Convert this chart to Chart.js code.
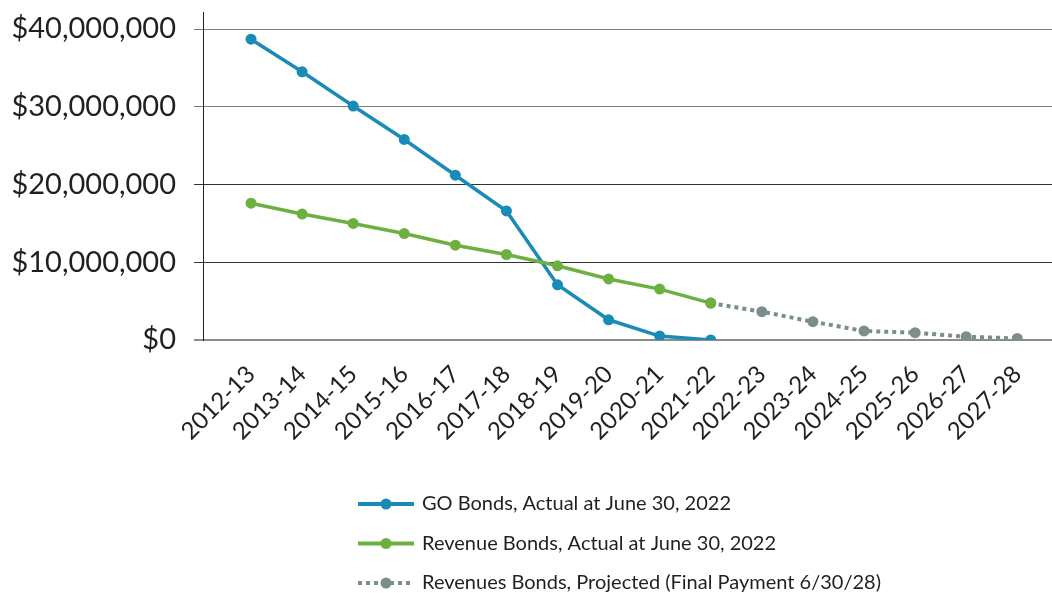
<!DOCTYPE html>
<html>
<head>
<meta charset="utf-8">
<title>Bonds outstanding</title>
<script src="https://cdn.jsdelivr.net/npm/chart.js@4.4.1/dist/chart.umd.min.js"></script>
<style>
  html, body { margin: 0; padding: 0; background: #fff; }
  #wrap { width: 1052px; height: 593px; }
</style>
</head>
<body>
<div id="wrap"><canvas id="bondChart" width="1052" height="593"></canvas></div>
<script>
// fiscal years on the x axis
const fiscalYears = [
    "2012-13", "2013-14", "2014-15", "2015-16", "2016-17", "2017-18",
    "2018-19", "2019-20", "2020-21", "2021-22", "2022-23", "2023-24",
    "2024-25", "2025-26", "2026-27", "2027-28",
];

// outstanding balances (dollars)
const goBonds = [
    38700000, 34500000, 30100000, 25800000, 21200000, 16600000,
    7100000, 2600000, 500000, 0,
];
const revenueBonds = [
    17600000, 16200000, 15000000, 13700000, 12200000, 11000000,
    9550000, 7850000, 6550000, 4750000,
];
// projection starts at the last actual revenue value (2021-22)
const projectedStart = 9;
const projectedBonds = [4750000, 3640000, 2350000, 1160000, 940000, 420000, 200000];

const yTicks = [0, 10000000, 20000000, 30000000, 40000000];

const legendLabels = [
    "GO Bonds, Actual at June 30, 2022",
    "Revenue Bonds, Actual at June 30, 2022",
    "Revenues Bonds, Projected (Final Payment 6/30/28)",
];

const BLUE = "#1a8bb6";
const GREEN = "#6db042";
const GRAY = "#7b8d8d";
const TEXT = "#231f20";
const FONT = "Lato";

const toPoints = (values, start = 0) =>
    values.map((v, i) => ({ x: start + i, y: v }));

const money = (v) => "$" + Number(v).toLocaleString("en-US");

// legend drawn as three stacked rows under the axis
const stackedLegend = {
    id: "stackedLegend",
    afterDraw(chart) {
        const ctx = chart.ctx;
        const left = 358;
        const swatch = 56;
        const top = 504;
        const gap = 39.5;
        ctx.save();
        chart.data.datasets.forEach((ds, i) => {
            const y = top + i * gap;
            ctx.beginPath();
            ctx.strokeStyle = ds.borderColor;
            ctx.lineWidth = 4;
            ctx.setLineDash(ds.borderDash || []);
            ctx.moveTo(left, y);
            ctx.lineTo(left + swatch, y);
            ctx.stroke();
            ctx.setLineDash([]);
            ctx.beginPath();
            ctx.fillStyle = ds.pointBackgroundColor;
            ctx.arc(left + swatch / 2, y, 5.5, 0, Math.PI * 2);
            ctx.fill();
            ctx.fillStyle = TEXT;
            ctx.font = "20px " + FONT;
            ctx.textBaseline = "middle";
            ctx.textAlign = "left";
            ctx.fillText(legendLabels[i], left + swatch + 8, y);
        });
        ctx.restore();
    },
};

const gridColor = (value) => {
    if (value === 0) return "#8c8c8c";
    if (value >= 30000000) return "#7d7d7d";
    return "#333333";
};

new Chart(document.getElementById("bondChart"), {
    type: "line",
    data: {
        datasets: [
            {
                label: legendLabels[0],
                data: toPoints(goBonds),
                borderColor: BLUE,
                backgroundColor: BLUE,
                pointBackgroundColor: BLUE,
                pointBorderWidth: 0,
                pointRadius: 5.5,
                borderWidth: 3.5,
                order: 1,
            },
            {
                label: legendLabels[1],
                data: toPoints(revenueBonds),
                borderColor: GREEN,
                backgroundColor: GREEN,
                pointBackgroundColor: GREEN,
                pointBorderWidth: 0,
                pointRadius: 5.5,
                borderWidth: 3.5,
                order: 0,
            },
            {
                label: legendLabels[2],
                data: toPoints(projectedBonds, projectedStart),
                borderColor: GRAY,
                backgroundColor: GRAY,
                pointBackgroundColor: GRAY,
                pointBorderWidth: 0,
                pointRadius: 5.5,
                borderWidth: 4,
                borderDash: [4, 4],
                borderCapStyle: "butt",
                order: 2,
            },
        ],
    },
    options: {
        responsive: false,
        animation: false,
        layout: {
            autoPadding: false,
            padding: { top: 12, right: 0, bottom: 133, left: 0 },
        },
        plugins: {
            legend: { display: false },
            tooltip: { enabled: false },
        },
        scales: {
            x: {
                type: "linear",
                min: -0.94,
                max: 15.68,
                afterBuildTicks: (scale) => {
                    scale.ticks = fiscalYears.map((_, i) => ({ value: i }));
                },
                grid: { display: false },
                border: { display: false },
                ticks: {
                    autoSkip: false,
                    minRotation: 45,
                    maxRotation: 45,
                    padding: 12,
                    color: TEXT,
                    font: { family: FONT, size: 24 },
                    callback: (value) => fiscalYears[value],
                },
                afterFit: (scale) => {
                    scale.height = 120;
                    scale.paddingLeft = 0;
                    scale.paddingRight = 0;
                },
            },
            y: {
                min: 0,
                max: 42200000,
                afterBuildTicks: (scale) => {
                    scale.ticks = yTicks.map((v) => ({ value: v }));
                },
                afterFit: (scale) => {
                    scale.width = 203;
                    scale.paddingTop = 0;
                    scale.paddingBottom = 0;
                },
                border: { display: true, color: "#222", width: 1 },
                grid: {
                    color: (ctx) => gridColor(ctx.tick.value),
                    tickColor: (ctx) => gridColor(ctx.tick.value),
                    lineWidth: (ctx) => (ctx.tick.value === 0 ? 2 : 1),
                    tickLength: 9,
                },
                ticks: {
                    padding: 18,
                    color: TEXT,
                    font: { family: FONT, size: 29 },
                    callback: (value) => money(value),
                },
            },
        },
    },
    plugins: [stackedLegend],
});
</script>
</body>
</html>
